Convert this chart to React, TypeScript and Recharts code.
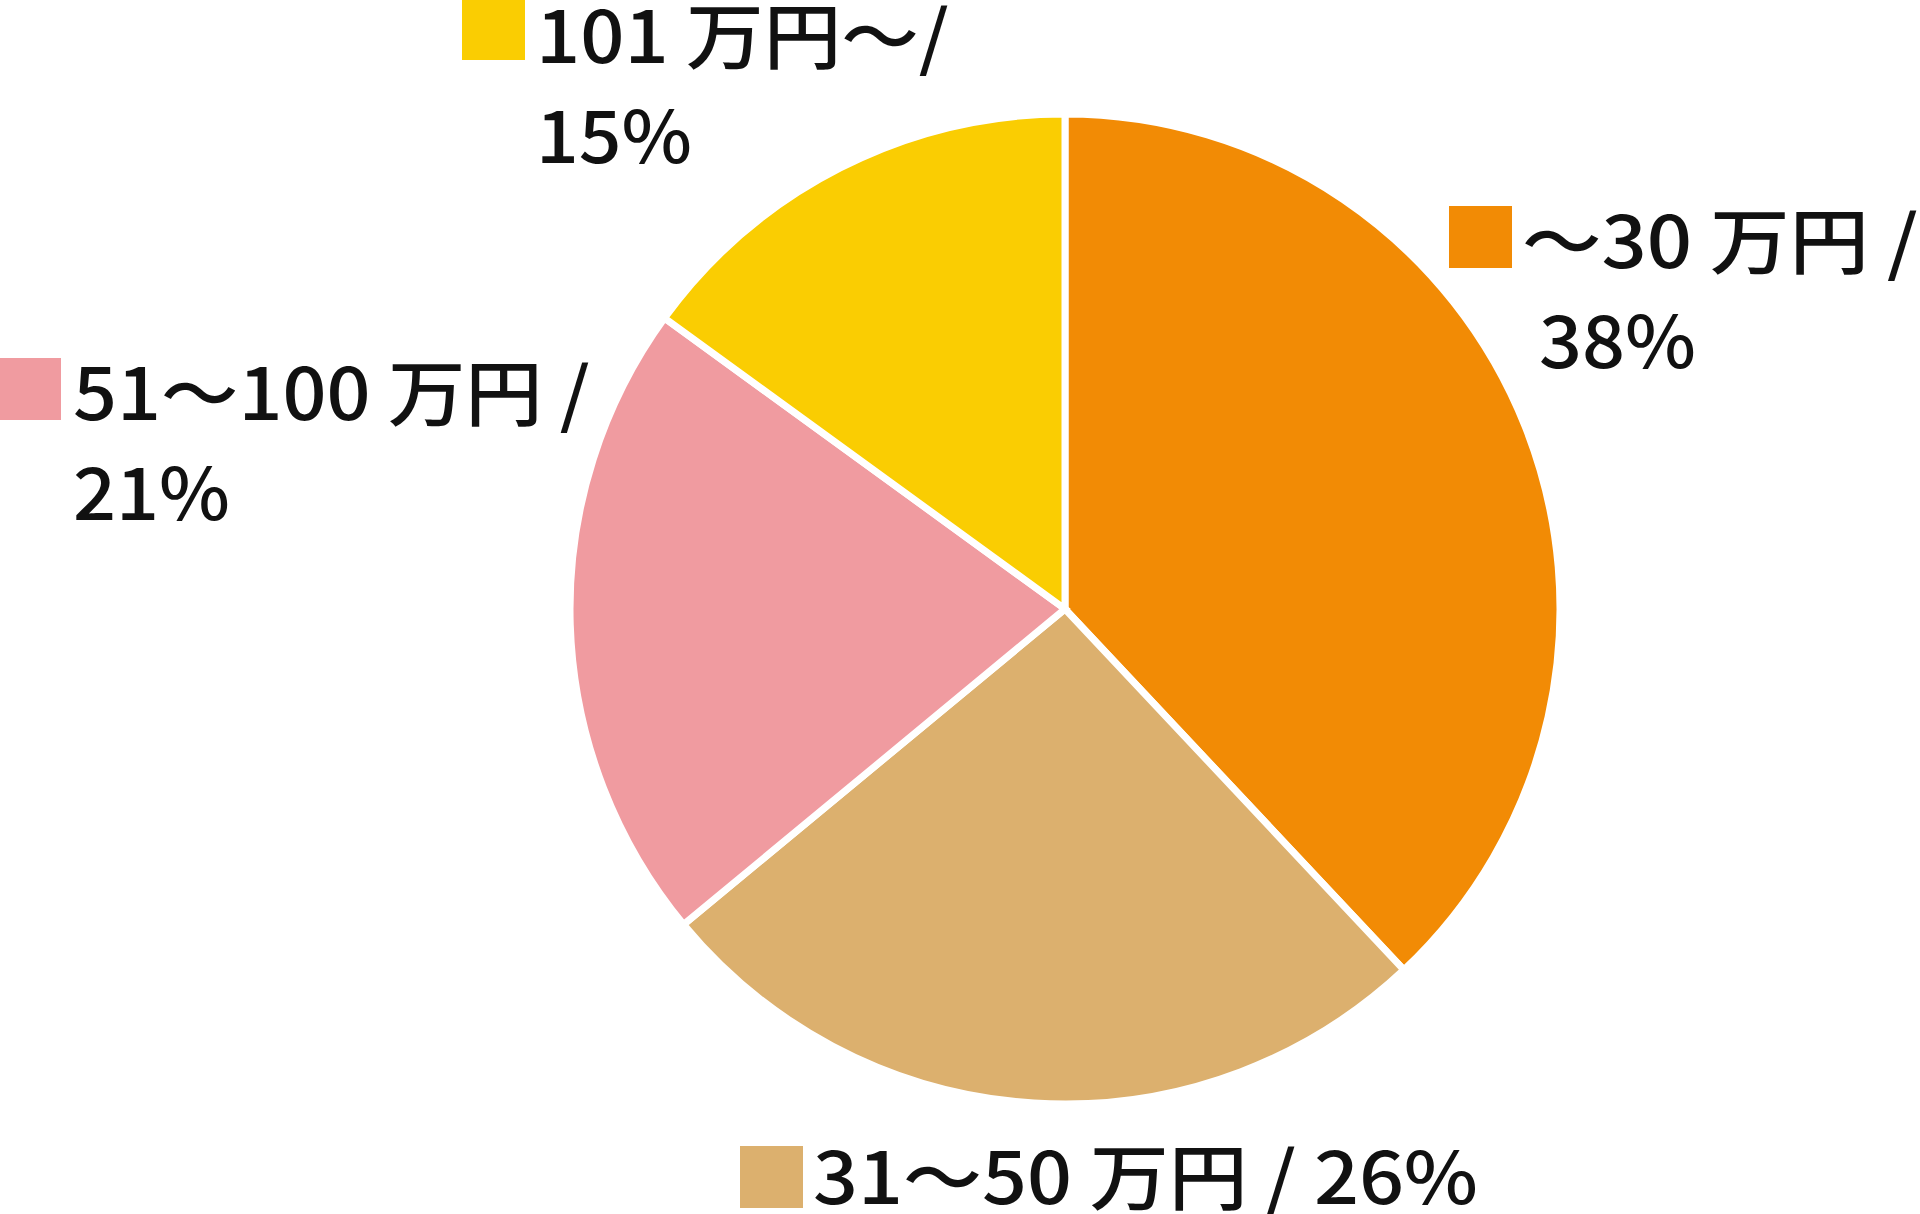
import { PieChart, Pie, Cell } from "recharts";

// 金額帯ごとの割合 (%)
const categories = ["～30 万円", "31～50 万円", "51～100 万円", "101 万円～"];
const shares = [38, 26, 21, 15];
const colors = ["#F28B05", "#DCB06E", "#F09BA0", "#FACD02"];

// label text, one entry per line
const labelLines = [
  ["～30 万円 /", "38%"],
  ["31～50 万円 / 26%"],
  ["51～100 万円 /", "21%"],
  ["101 万円～/", "15%"],
];

// where each label block sits (square top-left, text start)
const labelLayout = [
  { sx: 1449, sy: 206, tx: 1522, ty: 268, indent: 17 },
  { sx: 740, sy: 1146, tx: 813, ty: 1204, indent: 0 },
  { sx: -2, sy: 358, tx: 73, ty: 420, indent: 0 },
  { sx: 462, sy: -2, tx: 536, ty: 63, indent: 0 },
];
const textWidths = [
  [396, 157],
  [665],
  [517, 157],
  [413, 156],
];

const data = categories.map((name, i) => ({ name, value: shares[i] }));

const FONT = '"Noto Sans CJK JP", "Noto Sans", sans-serif';

function renderLabel(props: { index: number }) {
  const i = props.index;
  const pos = labelLayout[i];
  return (
    <g key={`lbl-${i}`}>
      <rect x={pos.sx} y={pos.sy} width={63} height={62} fill={colors[i]} />
      {labelLines[i].map((line, j) => (
        <text
          key={j}
          x={pos.tx + (j > 0 ? pos.indent : 0)}
          y={pos.ty + j * 100}
          fontFamily={FONT}
          fontSize={72}
          fontWeight={500}
          fill="#111"
          textLength={textWidths[i][j]}
          lengthAdjust="spacingAndGlyphs"
        >
          {line}
        </text>
      ))}
    </g>
  );
}

export default function App() {
  return (
    <div style={{ position: "absolute", left: 0, top: 0, background: "#fff" }}>
      <PieChart width={1920} height={1214} margin={{ top: 0, right: 0, bottom: 0, left: 0 }}>
        <Pie
          data={data}
          dataKey="value"
          nameKey="name"
          cx={1065}
          cy={609}
          outerRadius={495}
          startAngle={90}
          endAngle={-270}
          stroke="#ffffff"
          strokeWidth={7}
          label={renderLabel}
          labelLine={false}
          isAnimationActive={false}
        >
          {data.map((d, i) => (
            <Cell key={d.name} fill={colors[i]} />
          ))}
        </Pie>
      </PieChart>
    </div>
  );
}
